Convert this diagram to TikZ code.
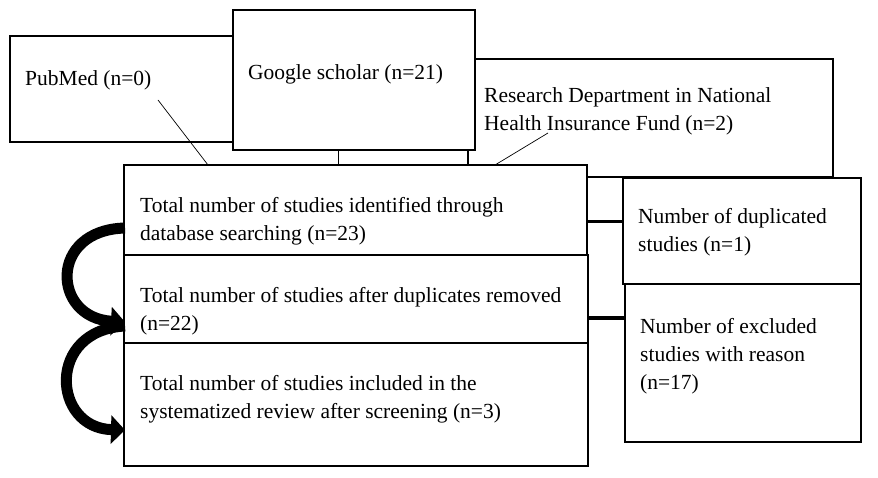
\documentclass[tikz,border=0pt]{standalone}
\usepackage{fontspec}
\setmainfont{Liberation Serif}
\usetikzlibrary{arrows.meta}
\begin{document}
\begin{tikzpicture}[x=1pt,y=-1pt,
  bx/.style={draw,fill=white,line width=2pt},
  txt/.style={anchor=north west,inner sep=0pt,align=left,font=\fontsize{21.5}{28}\selectfont},
  thin/.style={line width=0.7pt},
  thick/.style={line width=3pt},
  curv/.style={line width=11pt,-{Triangle[width=28pt,length=14pt]}}]
\useasboundingbox (0,0) rectangle (878,478);
\draw[bx] (10,36) rectangle (245,142);
\node[txt] (pm) at (25,70) {PubMed (n=0)};
\draw[bx] (468,59) rectangle (833,177);
\node[txt] (rd) at (484,87) {Research Department in National\\Health Insurance Fund (n=2)};
\draw[bx] (233,10) rectangle (475,150);
\node[txt] (gs) at (248,64) {Google scholar (n=21)};
\coordinate (pmE) at (158,100);
\coordinate (gsE) at (338,150);
\coordinate (rdE) at (548,133);
\coordinate (t1a) at (208,165);
\coordinate (t1b) at (338,165);
\coordinate (t1c) at (495,165);
\draw[thin] (pmE) -- (t1a);
\draw[thin] (gsE) -- (t1b);
\draw[thin] (rdE) -- (t1c);
\draw[bx] (124,165) rectangle (587,255);
\node[txt] (t1) at (140,197) {Total number of studies identified through\\database searching (n=23)};
\draw[bx] (124,255) rectangle (588,343);
\node[txt] (t2) at (140,287) {Total number of studies after duplicates removed\\(n=22)};
\draw[bx] (124,343) rectangle (588,466);
\node[txt] (t3) at (140,375) {Total number of studies included in the\\systematized review after screening (n=3)};
\draw[bx] (623,178) rectangle (861,284);
\node[txt] (du) at (638,208) {Number of duplicated\\studies (n=1)};
\draw[bx] (625,284) rectangle (861,442);
\node[txt] (ex) at (640,318) {Number of excluded\\studies with reason\\(n=17)};
\coordinate (c1a) at (587,222);
\coordinate (c1b) at (623,222);
\coordinate (c2a) at (588,318);
\coordinate (c2b) at (625,318);
\draw[thick] (c1a) -- (c1b);
\draw[thick] (c2a) -- (c2b);
\coordinate (a1s) at (125,228);
\coordinate (a1e) at (125,322);
\coordinate (a2s) at (125,326);
\coordinate (a2e) at (125,430);
\draw[curv] (a1s) .. controls (48,230) and (52,318) .. (a1e);
\draw[curv] (a2s) .. controls (46,330) and (52,428) .. (a2e);
\end{tikzpicture}
\end{document}
